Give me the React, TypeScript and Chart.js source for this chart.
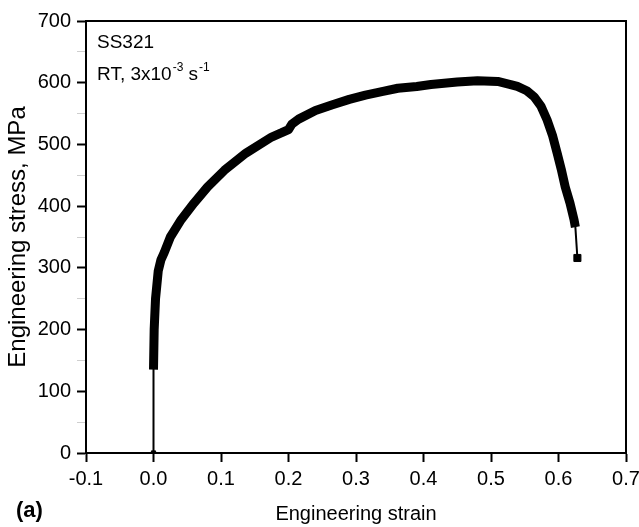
import React, { useEffect, useRef } from "react";
import { Chart, registerables } from "chart.js";

Chart.register(...registerables);

// Engineering strain (x) and engineering stress in MPa (y)
const strain = [
  0, 0, 0.001, 0.003, 0.007, 0.011, 0.016, 0.025, 0.041, 0.06, 0.08, 0.105, 0.137,
  0.175, 0.19, 0.2, 0.205, 0.215, 0.24, 0.264, 0.29, 0.314, 0.34, 0.362, 0.39, 0.411,
  0.45, 0.48, 0.51, 0.529, 0.539, 0.553, 0.564, 0.574, 0.583, 0.591, 0.598, 0.604,
  0.61, 0.617, 0.623, 0.625, 0.628,
];
const stress = [
  0, 135, 200, 250, 295, 313, 325, 350, 378, 405, 431, 458, 486,
  512, 519, 524, 533, 541, 555, 564, 573, 580, 586, 591, 594, 597,
  601, 603, 602, 597, 594, 587, 577, 562, 540, 515, 486, 460,
  431, 405, 378, 366, 316,
];

const xTicks = [-0.1, 0.0, 0.1, 0.2, 0.3, 0.4, 0.5, 0.6, 0.7];
const yTicks = [0, 100, 200, 300, 400, 500, 600, 700];

const sampleName = "SS321";
const conditionText = "RT, 3x10";
const panelLabel = "(a)";
const xTitle = "Engineering strain";
const yTitle = "Engineering stress, MPa";

const FONT = "'Liberation Sans', Arial, Helvetica, sans-serif";

const framePlugin = {
  id: "frameAndNotes",
  afterDraw(chart: any) {
    const { ctx, chartArea } = chart;
    const { left, top, right, bottom } = chartArea;
    ctx.save();
    ctx.strokeStyle = "#000";
    ctx.lineWidth = 2;
    ctx.beginPath();
    ctx.moveTo(left, top);
    ctx.lineTo(right, top);
    ctx.lineTo(right, bottom);
    ctx.stroke();

    ctx.fillStyle = "#000";
    ctx.textBaseline = "alphabetic";
    ctx.textAlign = "left";
    ctx.font = `19px ${FONT}`;
    const ax = left + 11;
    ctx.fillText(sampleName, ax, top + 27);
    const by = top + 59;
    ctx.fillText(conditionText, ax, by);
    let x = ax + ctx.measureText(conditionText).width;
    ctx.font = `12px ${FONT}`;
    ctx.fillText("-3", x + 1, by - 9);
    x += 1 + ctx.measureText("-3").width;
    ctx.font = `19px ${FONT}`;
    ctx.fillText(" s", x, by);
    x += ctx.measureText(" s").width;
    ctx.font = `12px ${FONT}`;
    ctx.fillText("-1", x + 1, by - 9);

    ctx.font = `bold 22px ${FONT}`;
    ctx.fillText(panelLabel, 16, 517);
    ctx.restore();
  },
};

export default function App() {
  const ref = useRef<HTMLCanvasElement | null>(null);

  useEffect(() => {
    if (!ref.current) return;
    const all = strain.map((s, i) => ({ x: s, y: stress[i] }));
    const plastic = all.slice(1, all.length - 1);
    const lastIdx = all.length - 1;

    const chart = new Chart(ref.current, {
      type: "scatter",
      data: {
        datasets: [
          {
            data: all,
            showLine: true,
            borderColor: "#000",
            backgroundColor: "#000",
            borderWidth: 2,
            pointStyle: "rect",
            pointRadius: (c: any) => (c.dataIndex === 0 ? 3 : c.dataIndex === lastIdx ? 5 : 0),
            pointBorderWidth: 1,
            pointBorderColor: "#000",
            pointBackgroundColor: "#000",
          },
          {
            data: plastic,
            showLine: true,
            borderColor: "#000",
            borderWidth: 9,
            borderJoinStyle: "round",
            borderCapStyle: "butt",
            pointRadius: 0,
          },
        ],
      },
      options: {
        responsive: false,
        animation: false,
        layout: { padding: { top: 21, right: 13, left: 0, bottom: 0 } },
        plugins: {
          legend: { display: false },
          tooltip: { enabled: false },
        },
        scales: {
          x: {
            type: "linear",
            min: xTicks[0],
            max: xTicks[xTicks.length - 1],
            afterFit: (s: any) => {
              s.height = 74;
              s.paddingLeft = 0;
              s.paddingRight = 0;
            },
            afterBuildTicks: (s: any) => {
              s.ticks = xTicks.map((v) => ({ value: v }));
            },
            border: { display: true, color: "#000", width: 2 },
            grid: {
              display: true,
              drawOnChartArea: false,
              drawTicks: true,
              tickLength: 9,
              tickWidth: 2,
              tickColor: "#000",
              color: "#000",
            },
            ticks: {
              color: "#000",
              padding: 5,
              autoSkip: false,
              maxRotation: 0,
              font: { family: FONT, size: 20 },
              callback: (v: any) => Number(v).toFixed(1),
            },
            title: {
              display: true,
              text: xTitle,
              color: "#000",
              font: { family: FONT, size: 20 },
              padding: { top: 0, bottom: 1 },
            },
          },
          y: {
            type: "linear",
            min: yTicks[0],
            max: yTicks[yTicks.length - 1],
            afterFit: (s: any) => {
              s.width = 86;
              s.paddingTop = 0;
              s.paddingBottom = 0;
            },
            afterBuildTicks: (s: any) => {
              const t: any[] = [];
              for (let i = 0; i < yTicks.length; i++) {
                t.push({ value: yTicks[i] });
                if (i < yTicks.length - 1) t.push({ value: (yTicks[i] + yTicks[i + 1]) / 2 });
              }
              s.ticks = t;
            },
            border: { display: true, color: "#000", width: 2 },
            grid: {
              display: true,
              drawOnChartArea: false,
              drawTicks: true,
              tickLength: 9,
              tickWidth: (c: any) => (yTicks.includes(c.tick?.value) ? 2 : 1),
              tickColor: (c: any) => (yTicks.includes(c.tick?.value) ? "#000" : "#cfcfcf"),
              color: "#000",
            },
            ticks: {
              color: "#000",
              padding: 6,
              autoSkip: false,
              font: { family: FONT, size: 20 },
              callback: (v: any) => (yTicks.includes(Number(v)) ? String(v) : ""),
            },
            title: {
              display: true,
              text: yTitle,
              color: "#000",
              font: { family: FONT, size: 24 },
              padding: { top: 4, bottom: 0 },
            },
          },
        },
      },
      plugins: [framePlugin],
    } as any);
    return () => chart.destroy();
  }, []);

  return (
    <canvas
      ref={ref}
      width={639}
      height={527}
      style={{ position: "absolute", left: 0, top: 0, width: 639, height: 527, background: "#fff" }}
    />
  );
}
